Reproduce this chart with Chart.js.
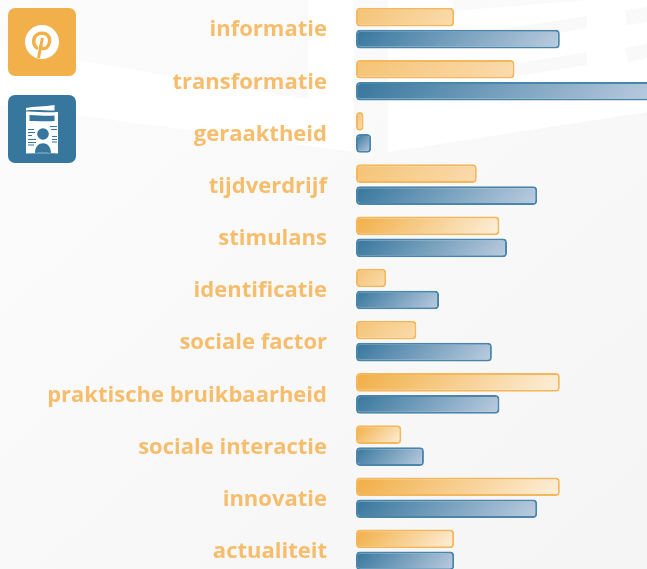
<!DOCTYPE html>
<html><head><meta charset="utf-8">
<style>
html,body{margin:0;padding:0;width:647px;height:569px;overflow:hidden;background:#fff}
#stage{position:relative;width:647px;height:569px;overflow:hidden}
#bg,#icons{position:absolute;left:0;top:0}
#wrap{position:absolute;left:0;top:0;width:647px;height:576px}
</style>
<script src="https://cdn.jsdelivr.net/npm/chart.js@4"></script>
</head><body>
<div id="stage">
<svg id="bg" width="647" height="569" viewBox="0 0 647 569">
<defs><linearGradient id="g" x1="0" y1="0" x2="1" y2="1"><stop offset="0" stop-color="#fcfcfc"/><stop offset="1" stop-color="#f5f5f5"/></linearGradient></defs>
<rect width="647" height="569" fill="url(#g)"/>
<polygon fill="#fff" points="0,47 308,99 308,0 354,0 354,152 340,150 0,105"/>
<polygon fill="#fff" points="388,0 647,0 647,112 388,152"/>
<polygon fill="#fafafa" points="453,11 587,0 453,0"/>
<polygon fill="#f9f9f9" points="483,32 587,16 587,28 483,46"/>
<polygon fill="#f9f9f9" points="507,65 587,52 587,65 517,76"/>
<polygon fill="#f9f9f9" points="625,10 647,7 647,22 627,25"/>
<polygon fill="#f9f9f9" points="625,48 647,44 647,58 628,62"/>
</svg>
<div id="wrap"><canvas id="c" width="647" height="576"></canvas></div>
<svg id="icons" width="90" height="170" viewBox="0 0 90 170">
<rect x="8" y="8" width="68" height="68" rx="7" fill="#f2b04b"/>
<circle cx="42" cy="42" r="17" fill="#fff"/>
<path d="M38.5 58 L42.4 38" stroke="#f2b04b" stroke-width="3" fill="none"/>
<path d="M36.800 48 C32.500 44.500 32.800 38 36.500 35 C41 31.600 48 33.200 49.500 38.400 C50.600 43 47.500 48.600 43.600 48.600 C42 48.600 41 47.800 40.600 46.600" stroke="#f2b04b" stroke-width="3.400" fill="none" stroke-linecap="round"/>
<rect x="8" y="95" width="68" height="68" rx="7" fill="#37769d"/>
<path d="M26 108 C34 106.500 44 106.500 54.500 105 L54.500 110.500 C46 110.500 34 109.500 26 110.500Z" fill="#fff"/>
<path d="M26 111.500 C34 111 46 113 58 112 L58 153.500 C47 153 36 153.500 26 153.500Z" fill="#fff"/>
<path d="M29.500 115 C38 115 47 116.500 54.500 115.500 L54.500 121 C47 122 38 120.500 29.500 121Z" fill="#37769d"/>
<circle cx="43" cy="134" r="5.800" fill="#37769d"/>
<path d="M35 153 C35 140 51 140 51 153 C46 152.500 40 152.500 35 153Z" fill="#37769d"/>
<path d="M28 129.500h6M28 132.500h7M28 135.500h4M50 126.500h7M51 129.500h6M52 136.500h5M52 139.500h5M52 142h5M28 139.500h8M28 142.500h8M28 145h6" stroke="#37769d" stroke-width="1" fill="none"/>
</svg>
</div>
<script>
const categories = ["informatie","transformatie","geraaktheid","tijdverdrijf","stimulans","identificatie","sociale factor","praktische bruikbaarheid","sociale interactie","innovatie","actualiteit"];
const pinterestValues = [13,21,1,16,19,4,8,27,6,27,13];
const brochureValues = [27,40,2,24,20,11,18,19,9,24,13];
const xMax = 38.55;
const strongRows = [4,7,8,9,10];

function diagonalFill(chart, raw, index, dsIndex, from, to){
  const xs = chart.scales.x, ys = chart.scales.y;
  if (!xs || !ys || raw == null) return from;
  const x0 = xs.getPixelForValue(0), x1 = xs.getPixelForValue(raw);
  const cy = ys.getPixelForValue(index) + (dsIndex === 0 ? -11 : 11);
  if (![x0, x1, cy].every(Number.isFinite)) return from;
  const cx = (x0 + x1) / 2, half = ((x1 - x0) + 18) / 4;
  const g = chart.ctx.createLinearGradient(cx - half, cy - half, cx + half, cy + half);
  g.addColorStop(0, from);
  g.addColorStop(1, to);
  return g;
}
new Chart(document.getElementById('c'), {
  type: 'bar',
  data: {
    labels: categories,
    datasets: [
      { data: pinterestValues,
        backgroundColor: c => strongRows.includes(c.dataIndex)
          ? diagonalFill(c.chart, c.raw, c.dataIndex, 0, '#f1ae45', '#fdf0dc')
          : diagonalFill(c.chart, c.raw, c.dataIndex, 0, '#f4c375', '#fadcae'),
        borderColor: '#f5b75c', borderWidth: 2, borderRadius: 4, borderSkipped: false },
      { data: brochureValues,
        backgroundColor: c => diagonalFill(c.chart, c.raw, c.dataIndex, 1, '#37769d', '#bccde0'),
        borderColor: '#4a85aa', borderWidth: 2, borderRadius: 4, borderSkipped: false }
    ]
  },
  options: {
    indexAxis: 'y', responsive: false, animation: false,
    layout: { padding: { top: 2, left: 0, right: 0, bottom: 0 } },
    categoryPercentage: 0.843, barPercentage: 0.85,
    plugins: { legend: { display: false }, tooltip: { enabled: false }, title: { display: false } },
    scales: {
      x: { display: false, min: 0, max: xMax, grid: { display: false } },
      y: {
        grid: { display: false, drawTicks: false }, border: { display: false },
        afterFit: s => { s.width = 356; s.paddingTop = 0; s.paddingBottom = 0; },
        ticks: { color: '#f6bd6c', padding: 29, labelOffset: 2, autoSkip: false, font: { family: '"Open Sans"', size: 22, weight: '700' } }
      }
    }
  }
});
</script>
</body></html>
